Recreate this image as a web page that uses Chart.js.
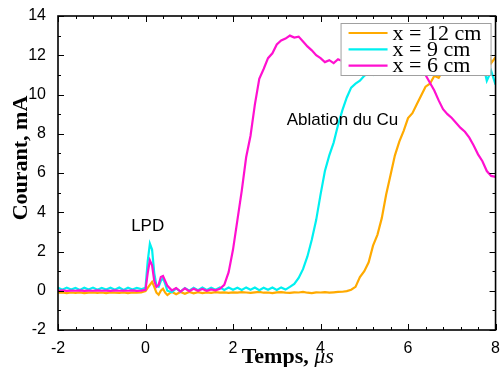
<!DOCTYPE html>
<html>
<head>
<meta charset="utf-8">
<script src="https://cdn.jsdelivr.net/npm/chart.js@4.4.0/dist/chart.umd.min.js"></script>
<style>
  html, body { margin: 0; padding: 0; background: #fff; }
</style>
</head>
<body>
<canvas id="chart" width="501" height="367"></canvas>
<script>
'use strict';

// time axis, µs (finer around the LPD peak)
var temps = [
  -2.0, -1.9, -1.8, -1.7, -1.6, -1.5, -1.4, -1.3, -1.2, -1.1,
  -1.0, -0.9, -0.8, -0.7, -0.6, -0.5, -0.4, -0.3, -0.2, -0.1,
   0.0, 0.05,  0.1, 0.15,  0.2, 0.25,  0.3, 0.35,  0.4, 0.45,  0.5,  0.6,  0.7,  0.8,  0.9,
   1.0,  1.1,  1.2,  1.3,  1.4,  1.5,  1.6,  1.7,  1.8,  1.9,
   2.0,  2.1,  2.2,  2.3,  2.4,  2.5,  2.6,  2.7,  2.8,  2.9,
   3.0,  3.1,  3.2,  3.3,  3.4,  3.5,  3.6,  3.7,  3.8,  3.9,
   4.0,  4.1,  4.2,  4.3,  4.4,  4.5,  4.6,  4.7,  4.8,  4.9,
   5.0,  5.1,  5.2,  5.3,  5.4,  5.5,  5.6,  5.7,  5.8,  5.9,
   6.0,  6.1,  6.2,  6.3,  6.4,  6.5,  6.6,  6.7,  6.8,  6.9,
   7.0,  7.1,  7.2,  7.3,  7.4,  7.5,  7.6,  7.7,  7.8,  7.9,
   8.0
];

// x = 12 cm
var courant12 = [
  -0.10, -0.08, -0.12, -0.09, -0.11, -0.08, -0.12, -0.10, -0.08, -0.11,
  -0.09, -0.12, -0.08, -0.10, -0.11, -0.08, -0.12, -0.09, -0.10, -0.08,
  -0.02,  0.15,  0.30,  0.45,  0.20, -0.10, -0.20,  0.00,  0.10, -0.10, -0.22, -0.05, -0.18, -0.06, -0.15,
  -0.06, -0.13, -0.07, -0.12, -0.08, -0.11, -0.07, -0.10, -0.08, -0.11,
  -0.08, -0.10, -0.07, -0.09, -0.11, -0.08, -0.06, -0.10, -0.09, -0.12,
  -0.08, -0.07, -0.10, -0.11, -0.08, -0.09, -0.06, -0.10, -0.12, -0.08,
  -0.09, -0.07, -0.10, -0.08, -0.06, -0.05, -0.02,  0.05,  0.20,  0.70,
   1.00,  1.45,  2.30,  2.85,  3.70,  4.90,  5.90,  6.90,  7.60,  8.15,
   8.80,  9.05,  9.50,  9.95, 10.40, 10.55, 10.95, 10.85, 11.25, 11.15,
  11.45, 11.30, 11.60, 11.45, 11.75, 11.55, 11.90, 11.70, 12.40, 11.60,
  11.90
];

// x = 9 cm
var courant9 = [
   0.15,  0.05,  0.16,  0.06,  0.14,  0.04,  0.15,  0.06,  0.16,  0.05,
   0.14,  0.06,  0.15,  0.05,  0.16,  0.04,  0.15,  0.06,  0.14,  0.08,
   0.15,  1.50,  2.40,  2.10,  0.90,  0.25,  0.20,  0.50,  0.65,  0.35,  0.00, -0.08,  0.12, -0.04,  0.14,
   0.00,  0.15,  0.03,  0.16,  0.04,  0.15,  0.05,  0.17,  0.04,  0.16,
   0.05,  0.15,  0.04,  0.17,  0.05,  0.16,  0.03,  0.15,  0.05,  0.16,
   0.04,  0.17,  0.06,  0.20,  0.35,  0.65,  1.10,  1.75,  2.60,  3.60,
   4.90,  6.10,  6.90,  7.55,  8.45,  9.20,  9.85, 10.35, 10.55, 10.70,
  10.95, 11.15, 11.00, 11.30, 11.50, 11.40, 11.70, 11.60, 11.80, 11.70,
  11.90, 11.80, 12.00, 11.90, 12.00, 11.85, 12.05, 11.90, 12.00, 11.80,
  11.95, 11.85, 12.00, 11.90, 12.05, 11.80, 11.95, 11.70, 10.70, 11.20,
  10.50
];

// x = 6 cm
var courant6 = [
   0.00,  0.02, -0.01,  0.01,  0.00,  0.02, -0.01,  0.01,  0.00,  0.02,
   0.00,  0.01, -0.01,  0.02,  0.00,  0.01,  0.00,  0.02, -0.01,  0.01,
   0.05,  0.90,  1.55,  1.30,  0.50,  0.20,  0.30,  0.70,  0.75,  0.50,  0.25,  0.02,  0.14, -0.04,  0.12,
  -0.02,  0.10,  0.00,  0.09,  0.00,  0.07,  0.02,  0.10,  0.30,  0.95,
   2.10,  3.60,  5.10,  6.80,  7.90,  9.50, 10.80, 11.30, 11.85, 12.10,
  12.55, 12.75, 12.85, 13.00, 12.90, 12.95, 12.70, 12.45, 12.25, 12.00,
  11.85, 11.65, 11.75, 11.60, 11.80, 11.70, 11.80, 11.70, 11.75, 11.65,
  11.70, 11.60, 11.65, 11.55, 11.60, 11.50, 11.55, 11.45, 11.50, 11.45,
  11.40, 11.35, 11.30, 11.20, 11.00, 10.60, 10.20,  9.70,  9.25,  9.00,
   8.80,  8.55,  8.30,  8.10,  7.80,  7.40,  6.95,  6.60,  6.10,  5.85,
   5.80
];

var seriesLabels = ['x = 12 cm', 'x = 9 cm', 'x = 6 cm'];
var seriesColors = ['#ffaa00', '#00f0f0', '#ff10d0'];

var xMinorTicks = [-1.6, -1.2, -0.8, -0.4, 0.4, 0.8, 1.2, 1.6, 2.4, 2.8, 3.2, 3.6,
                   4.4, 4.8, 5.2, 5.6, 6.4, 6.8, 7.2, 7.6];
var yMinorTicks = [-1, 1, 3, 5, 7, 9, 11, 13];

var notes = [
  { text: 'LPD', x: 0.05, y: 3.3 },
  { text: 'Ablation du Cu', x: 4.5, y: 8.7 }
];

function pts(ys) {
  return temps.map(function (t, i) { return { x: t, y: ys[i] }; });
}

// inward ticks on all four sides + box frame
var framePlugin = {
  id: 'frame',
  afterDatasetsDraw: function (chart) {
    var ctx = chart.ctx, a = chart.chartArea;
    var xs = chart.scales.x, ys = chart.scales.y;
    ctx.save();
    ctx.strokeStyle = '#000';
    ctx.lineWidth = 1;
    ctx.beginPath();
    function seg(x1, y1, x2, y2) { ctx.moveTo(x1, y1); ctx.lineTo(x2, y2); }
    xs.ticks.forEach(function (t) {
      var p = Math.round(xs.getPixelForValue(t.value)) + 0.5;
      seg(p, a.bottom, p, a.bottom - 6); seg(p, a.top, p, a.top + 6);
    });
    xMinorTicks.forEach(function (v) {
      var p = Math.round(xs.getPixelForValue(v)) + 0.5;
      seg(p, a.bottom, p, a.bottom - 3); seg(p, a.top, p, a.top + 3);
    });
    ys.ticks.forEach(function (t) {
      var p = Math.round(ys.getPixelForValue(t.value)) + 0.5;
      seg(a.left, p, a.left + 6, p); seg(a.right, p, a.right - 6, p);
    });
    yMinorTicks.forEach(function (v) {
      var p = Math.round(ys.getPixelForValue(v)) + 0.5;
      seg(a.left, p, a.left + 3, p); seg(a.right, p, a.right - 3, p);
    });
    ctx.stroke();
    ctx.lineWidth = 1.6;
    ctx.strokeRect(a.left, a.top, a.right - a.left, a.bottom - a.top);

    // text notes
    ctx.fillStyle = '#000';
    ctx.font = '17px "Liberation Sans", Arial, sans-serif';
    ctx.textAlign = 'center';
    ctx.textBaseline = 'middle';
    notes.forEach(function (n) {
      ctx.fillText(n.text, xs.getPixelForValue(n.x), ys.getPixelForValue(n.y));
    });
    ctx.restore();
  }
};

// legend box in the upper right corner of the plot
var legendPlugin = {
  id: 'boxLegend',
  afterDraw: function (chart) {
    var ctx = chart.ctx, a = chart.chartArea;
    var bx = a.right - 155, by = a.top + 7, bw = 150, bh = 52;
    ctx.save();
    ctx.fillStyle = '#fff';
    ctx.fillRect(bx, by, bw, bh);
    ctx.strokeStyle = '#a0a0a0';
    ctx.lineWidth = 1;
    ctx.strokeRect(bx + 0.5, by + 0.5, bw, bh);
    ctx.font = '22px "Liberation Serif", "Times New Roman", serif';
    ctx.textBaseline = 'middle';
    ctx.textAlign = 'left';
    seriesLabels.forEach(function (lab, i) {
      var ry = by + 10 + i * 16.3;
      ctx.strokeStyle = seriesColors[i];
      ctx.lineWidth = 2.2;
      ctx.beginPath();
      ctx.moveTo(bx + 8, ry); ctx.lineTo(bx + 47, ry);
      ctx.stroke();
      ctx.fillStyle = '#000';
      ctx.fillText(lab, bx + 52, ry + 1);
    });

    // axis titles
    ctx.fillStyle = '#000';
    ctx.textBaseline = 'alphabetic';
    var f1 = 'bold 22px "Liberation Serif", "Times New Roman", serif';
    var f2 = 'italic 22px "Liberation Serif", "Times New Roman", serif';
    ctx.font = f1;
    var w1 = ctx.measureText('Temps, ').width;
    ctx.font = f2;
    var w2 = ctx.measureText('\u03bcs').width;
    var cx = (a.left + a.right) / 2 + 11;
    var x0 = cx - (w1 + w2) / 2;
    ctx.font = f1;
    ctx.fillText('Temps, ', x0, 363);
    ctx.font = f2;
    ctx.fillText('\u03bcs', x0 + w1, 363);

    ctx.font = f1;
    ctx.textAlign = 'center';
    ctx.translate(27, 158);
    ctx.rotate(-Math.PI / 2);
    ctx.fillText('Courant, mA', 0, 0);
    ctx.restore();
  }
};

var tickFont = { family: '"Liberation Sans", Arial, sans-serif', size: 16 };

new Chart(document.getElementById('chart'), {
  type: 'line',
  data: {
    datasets: [
      { label: seriesLabels[0], data: pts(courant12), borderColor: seriesColors[0], order: 3 },
      { label: seriesLabels[1], data: pts(courant9),  borderColor: seriesColors[1], order: 2 },
      { label: seriesLabels[2], data: pts(courant6),  borderColor: seriesColors[2], order: 1 }
    ]
  },
  options: {
    responsive: false,
    animation: false,
    devicePixelRatio: 1,
    elements: {
      line: { borderWidth: 2.2, tension: 0, fill: false },
      point: { radius: 0 }
    },
    layout: { padding: { top: 16, right: 3, left: 0, bottom: 0 }, autoPadding: false },
    plugins: { legend: { display: false }, tooltip: { enabled: false } },
    scales: {
      x: {
        type: 'linear', min: -2, max: 8,
        afterFit: function (s) { s.height = 37; },
        grid: { display: false }, border: { display: false },
        ticks: { stepSize: 2, color: '#000', font: tickFont, padding: 1, maxRotation: 0 }
      },
      y: {
        min: -2, max: 14,
        afterFit: function (s) { s.width = 58; },
        grid: { display: false }, border: { display: false },
        ticks: { stepSize: 2, color: '#000', font: tickFont, padding: 4 }
      }
    }
  },
  plugins: [framePlugin, legendPlugin]
});
</script>
</body>
</html>
